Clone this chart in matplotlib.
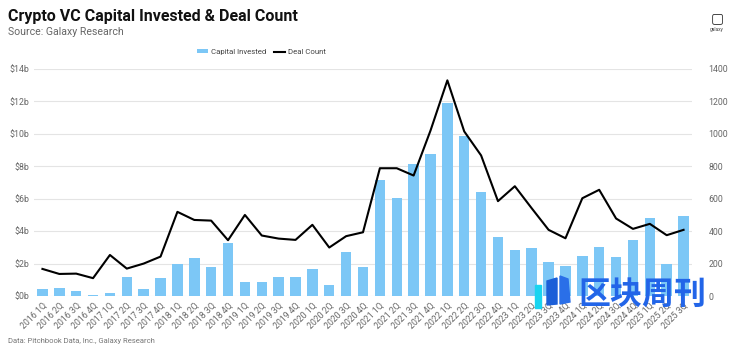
import numpy as np
import matplotlib
matplotlib.use('Agg')
import matplotlib.pyplot as plt
from matplotlib.patches import Rectangle, Polygon

plt.rcParams['font.family'] = ['Roboto', 'DejaVu Sans']

years = ['2016', '2017', '2018', '2019', '2020', '2021', '2022', '2023', '2024', '2025']
quarters = [y + ' ' + q for y in years for q in ['1Q', '2Q', '3Q', '4Q']][:39]

# capital invested, $b
capital = [0.43, 0.49, 0.31, 0.08, 0.19, 1.17, 0.45, 1.09, 1.98, 2.35,
           1.77, 3.25, 0.84, 0.84, 1.17, 1.17, 1.67, 0.70, 2.72, 1.81,
           7.16, 6.07, 8.15, 8.75, 11.92, 9.88, 6.40, 3.66, 2.84, 2.99,
           2.08, 1.87, 2.47, 3.05, 2.39, 3.44, 4.80, 1.98, 4.94]

# deal count
deals = [167, 136, 138, 110, 253, 169, 200, 243, 519, 469,
         465, 344, 500, 373, 354, 346, 439, 299, 369, 393,
         788, 788, 743, 1020, 1330, 1015, 867, 585, 677, 541,
         408, 356, 603, 655, 478, 414, 445, 375, 408]

bar_color = '#7CC7F6'
grey = '#666666'

fig = plt.figure(figsize=(7.33, 3.52), dpi=100)
ax = fig.add_axes([34 / 733, 1 - 296 / 352, 658 / 733, 227 / 352])
ax2 = ax.twinx()

x = np.arange(len(quarters))
ax.bar(x, capital, width=0.62, color=bar_color, zorder=2, label='Capital Invested')
ax2.plot(x, deals, color='black', lw=1.5, zorder=3, label='Deal Count')

ax.set_ylim(0, 14)
ax2.set_ylim(0, 1400)
ax.set_xlim(-0.5, len(quarters) - 0.5)
ax.set_yticks(np.arange(0, 15, 2))
ax.set_yticklabels(['$%db' % v for v in range(0, 15, 2)])
ax2.set_yticks(np.arange(0, 1401, 200))
ax.grid(axis='y', color='#e4e4e4', lw=0.8, zorder=0)
ax.set_axisbelow(True)

ax.set_xticks(x)
ax.set_xticklabels(quarters, rotation=45, ha='right', rotation_mode='anchor')

for a in (ax, ax2):
    for s in a.spines.values():
        s.set_visible(False)
    a.tick_params(length=0, labelsize=6.3, colors=grey, pad=3)
ax.tick_params(axis='x', pad=4)
ax2.tick_params(axis='y', pad=12)

# legend
h1, l1 = ax.get_legend_handles_labels()
h2, l2 = ax2.get_legend_handles_labels()
fig.legend(h1 + h2, l1 + l2, loc='center', bbox_to_anchor=(261 / 733, 1 - 52 / 352),
           ncol=2, frameon=False, fontsize=5.6, handlelength=1.5, handleheight=0.5,
           columnspacing=1.0, handletextpad=0.3, labelcolor='#444444')

fig.text(8 / 733, 1 - 16 / 352, 'Crypto VC Capital Invested & Deal Count',
         fontsize=11.5, fontweight='bold', va='center', color='#111111')
fig.text(8 / 733, 1 - 32 / 352, 'Source: Galaxy Research',
         fontsize=7.6, va='center', color='#666666')
fig.text(8 / 733, 1 - 341 / 352, 'Data: Pitchbook Data, Inc., Galaxy Research',
         fontsize=5.5, va='center', color='#777777')

# galaxy logo (top right)
fig.text(717 / 733, 1 - 18 / 352, '\u25A2', fontsize=10, ha='center', va='center',
         color='#222222', family=['DejaVu Sans'])
fig.text(717 / 733, 1 - 30 / 352, 'galaxy', fontsize=3.5, ha='center', va='center', color='#444444')

# watermark
def fx(px):
    return px / 733

def fy(py):
    return 1 - py / 352

fig.patches.append(Rectangle((fx(535), fy(308)), fx(6), 23 / 352, color='#18D4F0',
                             transform=fig.transFigure, zorder=10))
fig.patches.append(Polygon([(fx(547), fy(305)), (fx(547), fy(281)), (fx(557), fy(278)),
                            (fx(557), fy(304))], closed=True, color='#1C5FD8',
                           transform=fig.transFigure, zorder=10))
fig.patches.append(Polygon([(fx(560), fy(304)), (fx(560), fy(276)), (fx(568), fy(279)),
                            (fx(570), fy(302))], closed=True, color='#2A6FE8',
                           transform=fig.transFigure, zorder=10))
fig.text(fx(642), fy(295), '区块周刊', fontsize=23, fontweight='bold',
         family=['Noto Sans CJK SC'], ha='center', va='center', color='#2265E8', zorder=10)

fig.savefig('out.png', dpi=100)
